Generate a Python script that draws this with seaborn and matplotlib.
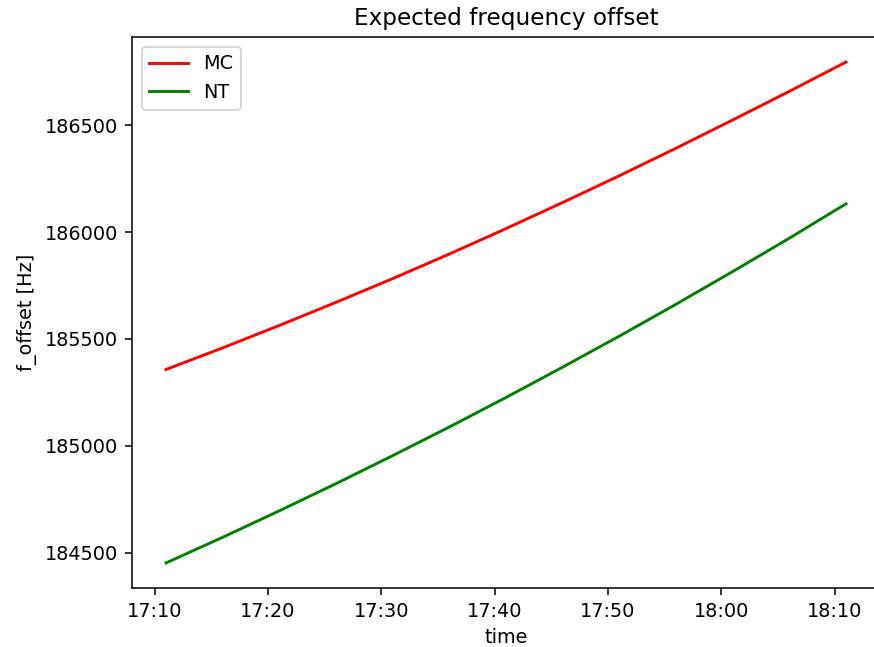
import matplotlib
matplotlib.use("Agg")
import matplotlib.pyplot as plt
import matplotlib.dates as mdates
import numpy as np
import pandas as pd
import seaborn as sns

# Sample times (5-minute steps)
times = ["17:11", "17:16", "17:21", "17:26", "17:31", "17:36", "17:41",
         "17:46", "17:51", "17:56", "18:01", "18:06", "18:11"]

# Expected frequency offset [Hz] per station
mc_offset = [185357, 185458, 185563, 185671, 185782, 185897, 186016,
             186138, 186263, 186392, 186524, 186658, 186795]
nt_offset = [184452, 184572, 184696, 184823, 184954, 185088, 185226,
             185368, 185513, 185662, 185815, 185971, 186132]

series_names = ["MC", "NT"]
series_colors = {"MC": "red", "NT": "green"}

t = pd.to_datetime(["2024-01-01 " + s for s in times])
df = pd.concat([
    pd.DataFrame({"time": t, "f_offset": mc_offset, "station": "MC"}),
    pd.DataFrame({"time": t, "f_offset": nt_offset, "station": "NT"}),
], ignore_index=True)

W, H, DPI = 874, 647, 139
fig = plt.figure(figsize=(W / DPI, H / DPI), dpi=DPI)
ax = fig.add_axes([132 / W, 59 / H, 748 / W, 551 / H])

sns.lineplot(data=df, x="time", y="f_offset", hue="station",
             hue_order=series_names, palette=series_colors, ax=ax,
             linewidth=1.5)

ax.set_title("Expected frequency offset")
ax.set_xlabel("time")
ax.set_ylabel("f_offset [Hz]")
ax.xaxis.set_major_locator(mdates.MinuteLocator(byminute=range(0, 60, 10)))
ax.xaxis.set_major_formatter(mdates.DateFormatter("%H:%M"))
ax.ticklabel_format(axis="y", useOffset=False, style="plain")
ax.set_yticks([184500, 185000, 185500, 186000, 186500])
ax.margins(x=0.05, y=0.05)

sns.move_legend(ax, "upper left", title=None)

fig.savefig("out.png", dpi=DPI)
